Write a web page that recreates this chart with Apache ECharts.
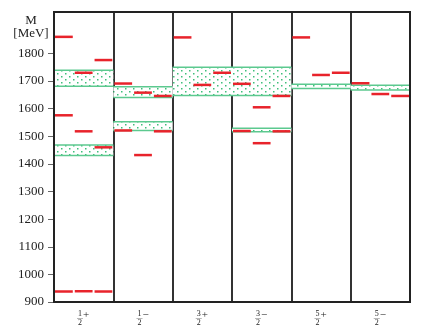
<!DOCTYPE html>
<html>
<head>
<meta charset="utf-8">
<script src="https://cdn.jsdelivr.net/npm/echarts@6/dist/echarts.min.js"></script>
<style>
    html, body { margin: 0; padding: 0; background: #fff; }
    #chart { width: 424px; height: 334px; }
</style>
</head>
<body>
<div id="chart"></div>
<script>
// spin-parity columns
const categories = ['1/2+', '1/2-', '3/2+', '3/2-', '5/2+', '5/2-'];
const numerators = ['1', '1', '3', '3', '5', '5'];
const parities = ['+', '−', '+', '−', '+', '−'];

// red levels, one list per column, for the left / middle / right slot
const leftLevels = [[1860, 1576, 938], [1691, 1521], [1858], [1690, 1519], [1858], [1692]];
const midLevels = [[1730, 1518, 939], [1658, 1432], [1686], [1605, 1475], [1722], [1653]];
const rightLevels = [[1776, 1460, 938], [1646, 1518], [1730], [1646, 1518], [1730], [1646]];

// green bands: [column, low, high]
const bands = [
    [0, 1681, 1739], [0, 1430, 1468],
    [1, 1640, 1679], [1, 1521, 1553],
    [2, 1648, 1750],
    [3, 1648, 1750], [3, 1516, 1529],
    [4, 1673, 1688],
    [5, 1668, 1685]
];

const yTicks = [900, 1000, 1100, 1200, 1300, 1400, 1500, 1600, 1700, 1800];

const serif = '"Liberation Serif", "DejaVu Serif", serif';
const red = '#e8232b';
const green = '#5cc98f';

// dotted fill for the bands
function dotPattern() {
    const c = document.createElement('canvas');
    c.width = 8; c.height = 6;
    const ctx = c.getContext('2d');
    ctx.fillStyle = '#fff';
    ctx.fillRect(0, 0, 8, 6);
    ctx.fillStyle = '#3fbf7a';
    ctx.fillRect(1, 1, 1.5, 1.5);
    ctx.fillRect(5, 4, 1.5, 1.5);
    return c;
}

let levelData = [];
leftLevels.forEach((vals, i) => vals.forEach(v => levelData.push([i, v, 0])));
midLevels.forEach((vals, i) => vals.forEach(v => levelData.push([i, v, 1])));
rightLevels.forEach((vals, i) => vals.forEach(v => levelData.push([i, v, 2])));

const chart = echarts.init(document.getElementById('chart'), null, { renderer: 'canvas' });
const pattern = { image: dotPattern(), repeat: 'repeat' };

const option = {
    animation: false,
    backgroundColor: '#fff',
    textStyle: { fontFamily: serif },
    grid: {
        left: 54, right: 14, top: 12, bottom: 32,
        show: true, borderColor: '#222', borderWidth: 2, z: 10
    },
    graphic: [{
        type: 'text',
        x: 31, y: 14,
        style: {
            text: 'M\n[MeV]',
            align: 'center',
            font: '13px ' + serif,
            lineHeight: 13,
            fill: '#222'
        }
    }],
    xAxis: {
        type: 'category',
        data: categories,
        boundaryGap: true,
        axisLine: { show: false },
        axisTick: { show: false },
        splitLine: { show: true, interval: 0, lineStyle: { color: '#333', width: 2 } },
        axisLabel: {
            margin: 8,
            interval: 0,
            formatter: function (val, idx) {
                return '{n|' + numerators[idx] + '}{s|' + parities[idx] + '}\n' +
                    '{b|—}{h|' + parities[idx] + '}\n' +
                    '{d|2}{h|' + parities[idx] + '}';
            },
            rich: {
                n: { fontSize: 8, lineHeight: 7, color: '#222', fontFamily: serif },
                s: { fontSize: 11, lineHeight: 3, verticalAlign: 'top', padding: [0, 0, 0, 1], color: '#222', fontFamily: serif },
                b: { fontSize: 6, lineHeight: 2, color: '#222', fontFamily: serif },
                h: { fontSize: 11, lineHeight: 2, color: 'rgba(0,0,0,0)', padding: [0, 0, 0, 1], fontFamily: serif },
                d: { fontSize: 8, lineHeight: 8, color: '#222', fontFamily: serif }
            }
        }
    },
    yAxis: {
        type: 'value',
        min: 900, max: 1950,
        splitLine: { show: false },
        axisLine: { show: false },
        axisTick: { show: true, inside: false, length: 6, customValues: yTicks, lineStyle: { color: '#666' } },
        axisLabel: {
            margin: 10, customValues: yTicks, fontSize: 13, color: '#222', fontFamily: serif,
            formatter: v => String(v)
        }
    },
    series: [
        {
            type: 'custom',
            name: 'bands',
            data: bands,
            z: 2,
            renderItem: function (params, api) {
                const col = api.value(0);
                const lo = api.coord([col, api.value(1)]);
                const hi = api.coord([col, api.value(2)]);
                const w = api.size([1, 0])[0];
                const x0 = lo[0] - w / 2;
                return {
                    type: 'group',
                    children: [
                        { type: 'rect', shape: { x: x0, y: hi[1], width: w, height: lo[1] - hi[1] }, style: { fill: pattern } },
                        { type: 'line', shape: { x1: x0, y1: hi[1], x2: x0 + w, y2: hi[1] }, style: { stroke: green, lineWidth: 1.5 } },
                        { type: 'line', shape: { x1: x0, y1: lo[1], x2: x0 + w, y2: lo[1] }, style: { stroke: green, lineWidth: 1.5 } }
                    ]
                };
            }
        },
        {
            type: 'custom',
            name: 'levels',
            data: levelData,
            z: 3,
            renderItem: function (params, api) {
                const col = api.value(0);
                const p = api.coord([col, api.value(1)]);
                const w = api.size([1, 0])[0];
                const slot = api.value(2);
                const x0 = p[0] - w / 2 + slot * w / 3;
                return {
                    type: 'line',
                    shape: { x1: x0 + 1, y1: p[1], x2: x0 + w / 3 - 1, y2: p[1] },
                    style: { stroke: red, lineWidth: 2.5 }
                };
            }
        }
    ]
};
chart.setOption(option);
</script>
</body>
</html>
